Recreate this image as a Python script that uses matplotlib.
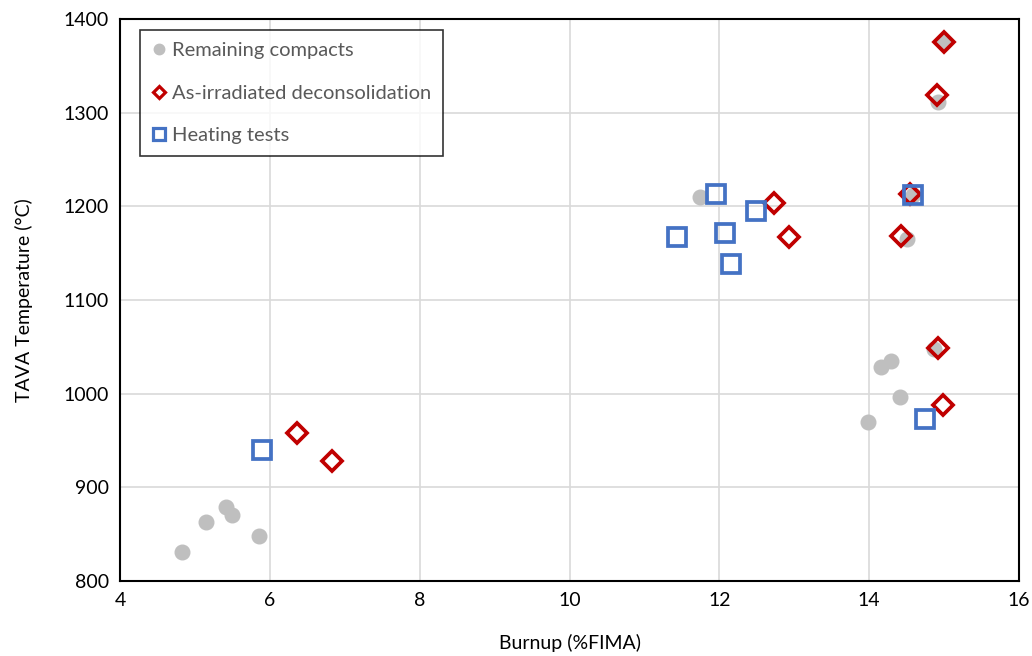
import matplotlib.pyplot as plt
from matplotlib.lines import Line2D

plt.rcParams['font.family'] = ['Lato', 'DejaVu Sans']

# Remaining compacts
rc_burnup = [4.83, 5.15, 5.41, 5.50, 5.85, 11.74, 13.99, 14.16, 14.29, 14.41,
             14.51, 14.87, 14.92, 15.00, 14.58]
rc_temp = [831, 863, 879, 871, 848, 1210, 970, 1028, 1035, 996,
           1165, 1048, 1311, 1376, 1212]

# As-irradiated deconsolidation
ad_burnup = [6.36, 6.83, 12.73, 12.93, 14.54, 14.43, 14.90, 15.00, 14.92, 14.99]
ad_temp = [958, 928, 1204, 1167, 1213, 1168, 1319, 1376, 1049, 988]

# Heating tests
ht_burnup = [5.90, 11.43, 11.96, 12.08, 12.16, 12.49, 14.58, 14.75]
ht_temp = [940, 1167, 1213, 1172, 1138, 1195, 1212, 973]

gray = '#BFBFBF'
red = '#C00000'
blue = '#4472C4'

fig = plt.figure(figsize=(10.32, 6.56), dpi=100)
ax = fig.add_axes([0.1163, 0.1143, 0.8711, 0.8567])

ax.plot(rc_burnup, rc_temp, 'o', color=gray, markersize=10.5, zorder=3)
ax.plot(ad_burnup, ad_temp, 'D', markerfacecolor='none', markeredgecolor=red,
        markersize=10.5, markeredgewidth=2.7, zorder=4)
ax.plot(ht_burnup, ht_temp, 's', markerfacecolor='none', markeredgecolor=blue,
        markersize=13.3, markeredgewidth=2.7, zorder=5)

ax.set_xlim(4, 16)
ax.set_ylim(800, 1400)
ax.set_xticks(range(4, 17, 2))
ax.set_yticks(range(800, 1401, 100))
ax.grid(True, color='#D9D9D9', linewidth=1.2, zorder=0)
ax.set_axisbelow(True)
for s in ax.spines.values():
    s.set_color('black')
    s.set_linewidth(1.5)
ax.tick_params(length=0, labelsize=14, pad=8, colors='black')

ax.set_xlabel('Burnup (%FIMA)', fontsize=14, labelpad=18)
ax.set_ylabel('TAVA Temperature (°C)', fontsize=14, labelpad=22)

handles = [
    Line2D([], [], ls='none', marker='o', color=gray, markersize=7.5),
    Line2D([], [], ls='none', marker='D', markerfacecolor='none',
           markeredgecolor=red, markersize=6.5, markeredgewidth=2.3),
    Line2D([], [], ls='none', marker='s', markerfacecolor='none',
           markeredgecolor=blue, markersize=8.5, markeredgewidth=2.3),
]
labels = ['Remaining compacts', 'As-irradiated deconsolidation', 'Heating tests']
leg = ax.legend(handles, labels, loc='upper left', bbox_to_anchor=(0.022, 0.98),
                fontsize=14.5, labelcolor='#595959', frameon=True, fancybox=False,
                handlelength=0.75, handletextpad=0.25, labelspacing=1.25,
                borderpad=0.6, borderaxespad=0)
leg.get_frame().set_edgecolor('black')
leg.get_frame().set_linewidth(1.2)
leg.set_zorder(10)

fig.savefig('out.png', dpi=100)
